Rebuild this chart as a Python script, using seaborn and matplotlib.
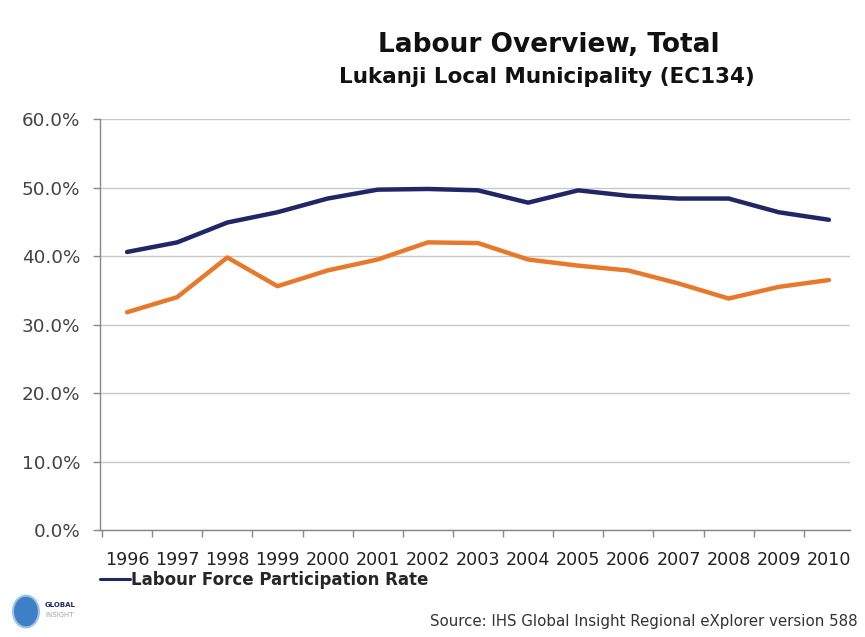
import matplotlib
matplotlib.use("Agg")
import matplotlib.pyplot as plt
import matplotlib.patches as mpatches
from matplotlib.lines import Line2D
from matplotlib.ticker import FixedLocator, PercentFormatter
import seaborn as sns
import pandas as pd

years = ["1996", "1997", "1998", "1999", "2000", "2001", "2002", "2003",
         "2004", "2005", "2006", "2007", "2008", "2009", "2010"]
participation_rate = [40.6, 42.0, 44.9, 46.4, 48.4, 49.7, 49.8, 49.6,
                      47.8, 49.6, 48.8, 48.4, 48.4, 46.4, 45.3]
absorption_rate = [31.8, 34.0, 39.8, 35.6, 37.9, 39.5, 42.0, 41.9,
                   39.5, 38.6, 37.9, 36.0, 33.8, 35.5, 36.5]
y_ticks = [0, 10, 20, 30, 40, 50, 60]

sns.set_theme(style="white")
plt.rcParams["font.family"] = ["DejaVu Sans"]

df = pd.DataFrame({
    "pos": list(range(len(years))) * 2,
    "value": participation_rate + absorption_rate,
    "series": ["Labour Force Participation Rate"] * len(years)
              + ["Labour Absorption Rate"] * len(years),
})

fig = plt.figure(figsize=(8.65, 6.37), dpi=100)
ax = fig.add_axes([0.1156, 0.168, 0.867, 0.645])

sns.lineplot(data=df, x="pos", y="value", hue="series",
             palette={"Labour Force Participation Rate": "#1f2766",
                      "Labour Absorption Rate": "#e8792a"},
             linewidth=3.2, legend=False, ax=ax)

ax.set_xlim(-0.54, len(years) - 1 + 0.42)
ax.set_ylim(0, 60)
ax.set_xlabel("")
ax.set_ylabel("")

for t in y_ticks:
    ax.axhline(t, color="#c8c8c8", linewidth=1.0, zorder=0)

ax.yaxis.set_major_locator(FixedLocator(y_ticks))
ax.yaxis.set_major_formatter(PercentFormatter(decimals=1))
ax.set_xticks(range(len(years)))
ax.set_xticklabels(years)
ax.xaxis.set_minor_locator(FixedLocator([i - 0.5 for i in range(len(years) + 1)]))
ax.tick_params(axis="x", which="major", length=0, pad=15, labelsize=12.6,
               labelcolor="#222222")
ax.tick_params(axis="x", which="minor", length=5, width=1, color="#888888",
               direction="out", bottom=True)
ax.tick_params(axis="y", which="major", length=5, width=1, color="#888888",
               direction="out", left=True, labelsize=13.2, labelcolor="#444444", pad=9)

for s in ["top", "right"]:
    ax.spines[s].set_visible(False)
for s in ["left", "bottom"]:
    ax.spines[s].set_color("#888888")
    ax.spines[s].set_linewidth(1.0)

# Legend (only participation rate shown)
leg_handle = Line2D([0], [0], color="#1f2766", linewidth=2.2)
fig.legend([leg_handle], ["Labour Force Participation Rate"],
           loc="center left", bbox_to_anchor=(0.098, 0.089), frameon=False,
           handlelength=1.8, handletextpad=0.1,
           prop={"weight": "bold", "size": 12})

# Titles
fig.text(0.634, 0.929, "Labour Overview, Total", ha="center", va="center",
         fontsize=19, fontweight="bold", color="#111111")
fig.text(0.632, 0.879, "Lukanji Local Municipality (EC134)", ha="center",
         va="center", fontsize=15.5, fontweight="bold", color="#111111")

# Source
fig.text(0.992, 0.013, "Source: IHS Global Insight Regional eXplorer version 588",
         ha="right", va="bottom", fontsize=10.8, color="#333333")

# Logo
logo = mpatches.Ellipse((0.030, 0.040), 0.030, 0.050, transform=fig.transFigure,
                        facecolor="#3f7fc6", edgecolor="#9cc3ea", linewidth=1.5)
fig.patches.append(logo)
fig.text(0.052, 0.050, "GLOBAL", fontsize=5, fontweight="bold", color="#1f2766",
         va="center")
fig.text(0.052, 0.034, "INSIGHT", fontsize=5, color="#9aa4b8", va="center")

fig.savefig("out.png", dpi=100)
